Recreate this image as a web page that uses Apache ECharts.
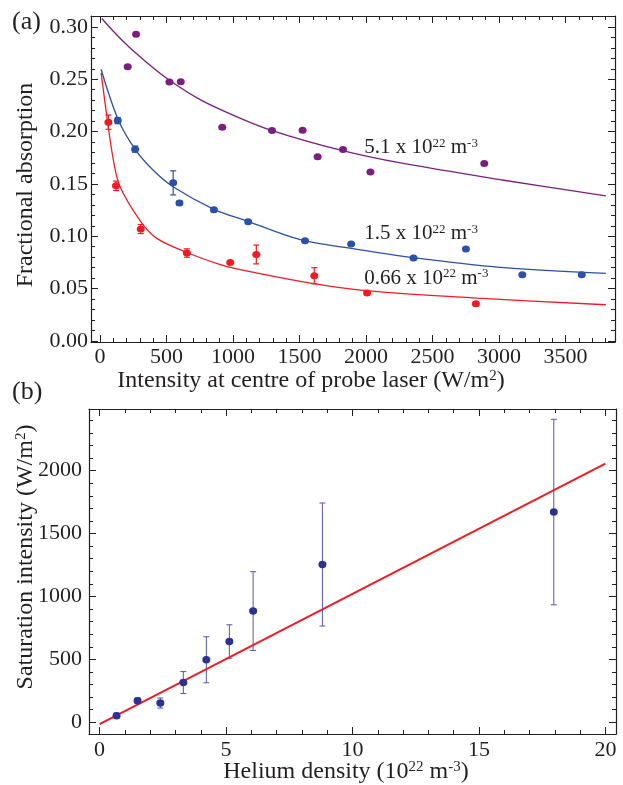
<!DOCTYPE html>
<html><head><meta charset="utf-8">
<script src="https://cdn.jsdelivr.net/npm/echarts@6/dist/echarts.min.js"></script>
<style>html,body{margin:0;padding:0;background:#fff}#c{width:623px;height:785px}</style>
</head><body><div id="c"></div>
<script>
// ---------- Panel (a) data ----------
const purpleI = [208, 271, 522, 607, 919, 1293, 1523, 1636, 1827, 2033, 2889];
const purpleA = [0.262, 0.293, 0.2474, 0.2477, 0.2042, 0.201, 0.2013, 0.176, 0.1828, 0.1615, 0.1695];
const blueI = [133, 264, 550, 597, 856, 1114, 1541, 1888, 2357, 2751, 3175, 3622];
const blueA = [0.2105, 0.1832, 0.151, 0.1317, 0.1253, 0.1138, 0.0957, 0.0925, 0.0792, 0.0878, 0.0633, 0.0633];
const blueErr = [0.003, 0.003, 0.0115, 0.002, 0.002, 0.0012, 0.001, 0.001, 0, 0, 0, 0];
const redI = [63, 120, 306, 653, 979, 1175, 1611, 2008, 2826];
const redA = [0.209, 0.1482, 0.1069, 0.084, 0.075, 0.0826, 0.0623, 0.0458, 0.0356];
const redErr = [0.0068, 0.0045, 0.0043, 0.004, 0.001, 0.009, 0.0077, 0.001, 0.002];
const purpleFitI = [13, 175, 351, 522, 753, 1004, 1293, 1832, 2259, 3012, 3803];
const purpleFitA = [0.308, 0.286, 0.266, 0.249, 0.2305, 0.2155, 0.201, 0.1815, 0.170, 0.154, 0.1386];
const blueFitI = [8, 138, 264, 400, 552, 853, 1117, 1506, 1888, 2357, 3012, 3803];
const blueFitA = [0.2595, 0.211, 0.183, 0.163, 0.147, 0.126, 0.114, 0.0967, 0.0885, 0.0795, 0.0702, 0.0645];
const redFitI = [8, 55, 100, 150, 306, 427, 653, 904, 1004, 1506, 2008, 2836, 3803];
const redFitA = [0.256, 0.211, 0.173, 0.1475, 0.114, 0.098, 0.0845, 0.0728, 0.0695, 0.057, 0.048, 0.041, 0.0346];
const labelsA = ['5.1 x 10{s|22} m{s|-3}', '1.5 x 10{s|22} m{s|-3}', '0.66 x 10{s|22} m{s|-3}'];
const labelPosI = [1983, 1983, 1983];
const labelPosA = [0.185, 0.1024, 0.0601];
const xTicksA = [0, 500, 1000, 1500, 2000, 2500, 3000, 3500];
const yTicksA = [0, 0.05, 0.10, 0.15, 0.20, 0.25, 0.30];

// ---------- Panel (b) data ----------
const density = [0.67, 1.50, 2.40, 3.31, 4.22, 5.13, 6.07, 8.81, 17.96];
const satI = [52, 171, 153, 316, 497, 642, 884, 1254, 1671];
const satErr = [21, 22, 40, 87, 183, 133, 313, 489, 737];
const fitD = [0, 20];
const fitS = [-14, 2055];
const xTicksB = [0, 5, 10, 15, 20];
const yTicksB = [0, 500, 1000, 1500, 2000];

// ---------- styling ----------
const FONT = 'Liberation Serif';
const INK = '#231f20';
const C_PURPLE = '#7a1f80', C_BLUE = '#2b50a5', C_RED = '#ed1c24', C_NAVY = '#2e3192', C_ERRB = '#5656aa';

function range(a, b, s) { const r = []; for (let v = a; v <= b + s / 1000; v += s) r.push(+v.toFixed(6)); return r; }
const xMinorA = range(0, 3800, 100), yMinorA = range(0, 0.30, 0.01);
const xMinorB = range(0, 20, 1), yMinorB = range(0, 2400, 100);

function axesSet(dim, gi, min, max, major, minor, fmt, margin) {
  const pos = dim === 'x' ? ['bottom', 'top'] : ['left', 'right'];
  const base = { type: 'value', gridIndex: gi, min, max, splitLine: { show: false }, axisLabel: { show: false }, axisTick: { show: false }, axisLine: { show: false, onZero: false } };
  const line = { show: true, onZero: false, lineStyle: { color: INK, width: 1.2 } };
  const tk = (vals, len) => ({ show: true, inside: true, length: len, customValues: vals, lineStyle: { color: INK, width: 1 } });
  return [
    Object.assign({}, base, { position: pos[0], axisLine: line, axisTick: tk(major, 7),
      axisLabel: { show: true, customValues: major, formatter: fmt, margin, color: INK, fontFamily: FONT, fontSize: 22 } }),
    Object.assign({}, base, { position: pos[0], axisTick: tk(minor, 4) }),
    Object.assign({}, base, { position: pos[1], axisLine: line, axisTick: tk(major, 7) }),
    Object.assign({}, base, { position: pos[1], axisTick: tk(minor, 4) })
  ];
}

function errRender(color, cap, lw) {
  return function (params, api) {
    const x = api.value(0), y = api.value(1), e = api.value(2);
    if (!e) return null;
    const hi = api.coord([x, y + e]), lo = api.coord([x, y - e]);
    const st = { stroke: color, lineWidth: lw };
    return { type: 'group', children: [
      { type: 'line', shape: { x1: hi[0], y1: hi[1], x2: lo[0], y2: lo[1] }, style: st },
      { type: 'line', shape: { x1: hi[0] - cap, y1: hi[1], x2: hi[0] + cap, y2: hi[1] }, style: st },
      { type: 'line', shape: { x1: lo[0] - cap, y1: lo[1], x2: lo[0] + cap, y2: lo[1] }, style: st }
    ] };
  };
}
const zip = (a, b) => a.map((v, i) => [v, b[i]]);
const zip3 = (a, b, c) => a.map((v, i) => [v, b[i], c[i]]);

const rich = (size, sup) => ({
  n: { fontSize: size, fontFamily: FONT, color: INK, fill: INK },
  s: { fontSize: sup, fontFamily: FONT, color: INK, fill: INK, verticalAlign: 'top', lineHeight: sup + 2 }
});
function wrapRich(t) { return '{n|' + t.replace(/\{s\|([^}]*)\}/g, '}{s|$1}{n|') + '}'; }

function fitLine(xs, ys, color, xi, yi, extra) {
  return Object.assign({ type: 'line', xAxisIndex: xi, yAxisIndex: yi, data: zip(xs, ys), showSymbol: false, symbol: 'none',
    smooth: 0.35, lineStyle: { color, width: 1.3 }, z: 2, silent: true }, extra || {});
}
function annot(i) {
  return { markPoint: { symbol: 'circle', symbolSize: 1, itemStyle: { color: 'rgba(0,0,0,0)' },
    label: { show: true, position: 'right', distance: 0, formatter: wrapRich(labelsA[i]), rich: rich(21, 13) },
    data: [{ coord: [labelPosI[i], labelPosA[i]] }] } };
}
function dots(xs, ys, color, xi, yi, size) {
  return { type: 'scatter', xAxisIndex: xi, yAxisIndex: yi, data: zip(xs, ys), symbol: 'circle', symbolSize: size,
    itemStyle: { color, opacity: 1 }, z: 4, silent: true };
}

const chart = echarts.init(document.getElementById('c'), null, { renderer: 'canvas' });
const option = {
  animation: false,
  grid: [
    { left: 91, top: 16, width: 524, height: 326, containLabel: false, outerBoundsMode: 'none' },
    { left: 89, top: 409, width: 527, height: 325, containLabel: false, outerBoundsMode: 'none' }
  ],
  xAxis: [].concat(
    axesSet('x', 0, -68, 3872, xTicksA, xMinorA, v => String(Math.round(v)), 4),
    axesSet('x', 1, -0.42, 20.42, xTicksB, xMinorB, v => String(Math.round(v)), 5)
  ),
  yAxis: [].concat(
    axesSet('y', 0, -0.001, 0.3104, yTicksA, yMinorA, v => v.toFixed(2), 3),
    axesSet('y', 1, -93, 2490, yTicksB, yMinorB, v => String(Math.round(v)), 7)
  ),
  graphic: [
    { type: 'text', x: 12, y: 22, style: { text: '(a)', fontFamily: FONT, fontSize: 26, fill: INK, align: 'left', verticalAlign: 'middle' } },
    { type: 'text', x: 12, y: 392, style: { text: '(b)', fontFamily: FONT, fontSize: 26, fill: INK, align: 'left', verticalAlign: 'middle' } },
    { type: 'text', x: 311, y: 381, style: { text: wrapRich('Intensity at centre of probe laser (W/m{s|2})'), rich: rich(24, 15), align: 'center', verticalAlign: 'middle' } },
    { type: 'text', x: 26, y: 185, rotation: Math.PI / 2, style: { text: 'Fractional absorption', fontFamily: FONT, fontSize: 24, fill: INK, align: 'center', verticalAlign: 'middle' } },
    { type: 'text', x: 346, y: 772, style: { text: wrapRich('Helium density (10{s|22} m{s|-3})'), rich: rich(24, 15), align: 'center', verticalAlign: 'middle' } },
    { type: 'text', x: 26, y: 557, rotation: Math.PI / 2, style: { text: wrapRich('Saturation intensity (W/m{s|2})'), rich: rich(24, 15), align: 'center', verticalAlign: 'middle' } }
  ],
  series: [
    fitLine(purpleFitI, purpleFitA, C_PURPLE, 0, 0, annot(0)),
    fitLine(blueFitI, blueFitA, C_BLUE, 0, 0, annot(1)),
    fitLine(redFitI, redFitA, C_RED, 0, 0, annot(2)),
    { type: 'custom', xAxisIndex: 0, yAxisIndex: 0, renderItem: errRender(C_BLUE, 3, 1.2), data: zip3(blueI, blueA, blueErr), z: 3, silent: true },
    { type: 'custom', xAxisIndex: 0, yAxisIndex: 0, renderItem: errRender(C_RED, 3, 1.2), data: zip3(redI, redA, redErr), z: 3, silent: true },
    dots(purpleI, purpleA, C_PURPLE, 0, 0, [8, 7]),
    dots(blueI, blueA, C_BLUE, 0, 0, [8, 7]),
    dots(redI, redA, C_RED, 0, 0, [8, 7]),
    { type: 'custom', xAxisIndex: 4, yAxisIndex: 4, renderItem: errRender(C_ERRB, 3, 1), data: zip3(density, satI, satErr), z: 2, silent: true },
    { type: 'line', xAxisIndex: 4, yAxisIndex: 4, data: zip(fitD, fitS), showSymbol: false, symbol: 'none', lineStyle: { color: C_RED, width: 2 }, z: 3, silent: true },
    dots(density, satI, C_NAVY, 4, 4, [8, 7.5])
  ]
};
chart.setOption(option);
</script></body></html>
